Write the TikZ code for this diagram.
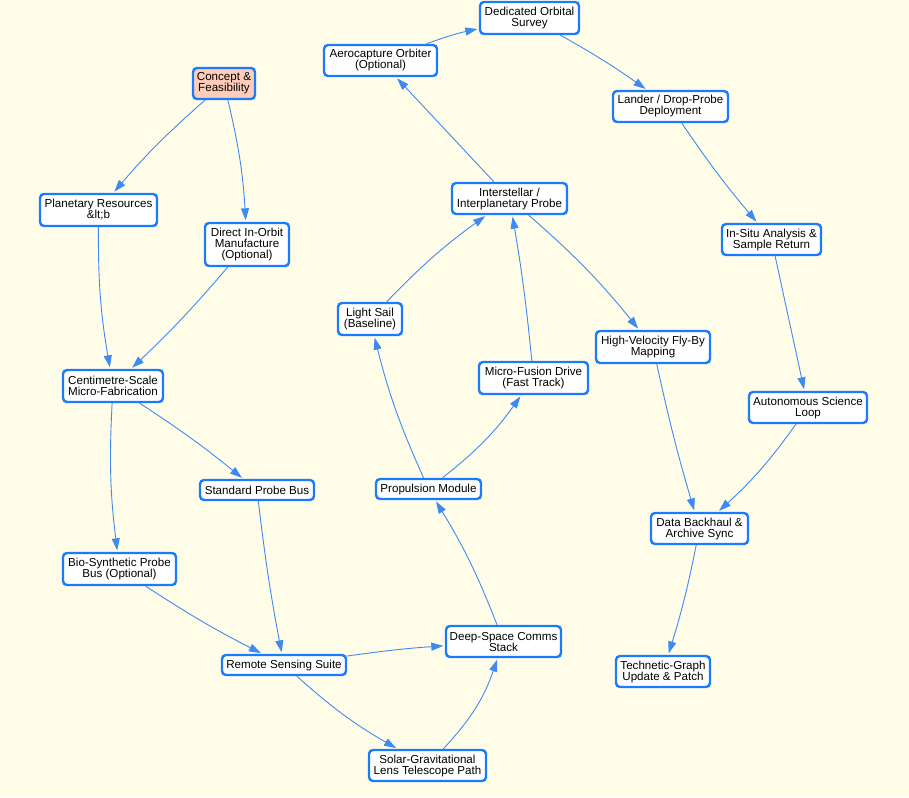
\documentclass[tikz,border=0pt]{standalone}
\usepackage{fontspec}
\setmainfont{Liberation Sans}
\usetikzlibrary{arrows.meta}
\definecolor{bgc}{HTML}{FFFDE8}
\definecolor{boxc}{HTML}{1A7BFF}
\definecolor{edgec}{HTML}{3D8BF2}
\definecolor{startc}{HTML}{FFCDBA}
\begin{document}
\begin{tikzpicture}[x=1pt,y=-1pt,
  box/.style={draw=boxc, line width=2.4pt, rounded corners=4pt, fill=white,
    align=center, inner xsep=2pt, inner ysep=3pt,
    font=\fontsize{11.6}{11}\selectfont, minimum height=#1},
  box/.default=20pt,
  startbox/.style={box=31pt, fill=startc},
  link/.style={draw=edgec, line width=0.9pt, shorten >=1.5pt,
    -{Triangle[length=12pt,width=8pt]}}]
\fill[bgc] (0,0) rectangle (909,797);
\useasboundingbox (0,0) rectangle (909,797);

% pipeline stages
\node[startbox, minimum width=62pt] (concept) at (224,83.5) {Concept \&\\Feasibility};
\node[box=32pt, minimum width=117pt] (planet) at (98.5,210) {Planetary Resources\\\&lt;b};
\node[box=43pt, minimum width=84pt] (direct) at (247,244.5) {Direct In-Orbit\\Manufacture\\(Optional)};
\node[box=32pt, minimum width=100pt] (cm) at (113,386) {Centimetre-Scale\\Micro-Fabrication};
\node[box, minimum width=114pt] (bus) at (257,490) {Standard Probe Bus};
\node[box=32pt, minimum width=113pt] (bio) at (119.5,569) {Bio-Synthetic Probe\\Bus (Optional)};
\node[box, minimum width=124pt] (remote) at (284,665) {Remote Sensing Suite};
\node[box=31pt, minimum width=117pt] (solar) at (427.5,765.5) {Solar-Gravitational\\Lens Telescope Path};
\node[box=31pt, minimum width=115pt] (comms) at (503.5,641.5) {Deep-Space Comms\\Stack};
\node[box, minimum width=105pt] (prop) at (428.5,489) {Propulsion Module};
\node[box=32pt, minimum width=64pt] (sail) at (370,319) {Light Sail\\(Baseline)};
\node[box=32pt, minimum width=109pt] (fusion) at (533.5,378) {Micro-Fusion Drive\\(Fast Track)};
\node[box=31pt, minimum width=115pt] (probe) at (509.5,198.5) {Interstellar /\\Interplanetary Probe};
\node[box=31pt, minimum width=113pt] (aero) at (380.5,60.5) {Aerocapture Orbiter\\(Optional)};
\node[box=32pt, minimum width=99pt] (survey) at (529.5,18) {Dedicated Orbital\\Survey};
\node[box=31pt, minimum width=115pt] (lander) at (670.5,106.5) {Lander / Drop-Probe\\Deployment};
\node[box=31pt, minimum width=99pt] (insitu) at (771.5,239.5) {In-Situ Analysis \&\\Sample Return};
\node[box=32pt, minimum width=114pt] (flyby) at (653,347) {High-Velocity Fly-By\\Mapping};
\node[box=31pt, minimum width=118pt] (auto) at (808,407.5) {Autonomous Science\\Loop};
\node[box=31pt, minimum width=97pt] (backhaul) at (699.5,528.5) {Data Backhaul \&\\Archive Sync};
\node[box=31pt, minimum width=94pt] (patch) at (663,671.5) {Technetic-Graph\\Update \& Patch};

% dependencies
\path[link] (concept) to[bend right=4] (planet);
\path[link] (concept) to[bend left=5] (direct);
\path[link] (planet) to[bend right=5] (cm);
\path[link] (direct) to[bend left=3] (cm);
\path[link] (cm) to[bend left=3] (bus);
\path[link] (cm) to[bend right=5] (bio);
\path[link] (bus) to[bend right=2] (remote);
\path[link] (bio) to[bend right=3] (remote);
\path[link] (remote) to[bend left=2] (comms);
\path[link] (remote) to[bend right=6] (solar);
\path[link] (solar) to[bend right=12] (comms);
\path[link] (comms) to[bend right=5] (prop);
\path[link] (prop) to[bend left=5] (sail);
\path[link] (prop) to[bend right=8] (fusion);
\path[link] (sail) to[bend left=5] (probe);
\path[link] (fusion) to[bend right=2] (probe);
\path[link] (probe) to (aero);
\path[link] (probe) to[bend left=5] (flyby);
\path[link] (aero) to[bend left=4] (survey);
\path[link] (survey) to[bend left=3] (lander);
\path[link] (lander) to[bend right=3] (insitu);
\path[link] (insitu) to (auto);
\path[link] (flyby) to[bend right=2] (backhaul);
\path[link] (auto) to[bend left=6] (backhaul);
\path[link] (backhaul) to[bend left=3] (patch);
\end{tikzpicture}
\end{document}
